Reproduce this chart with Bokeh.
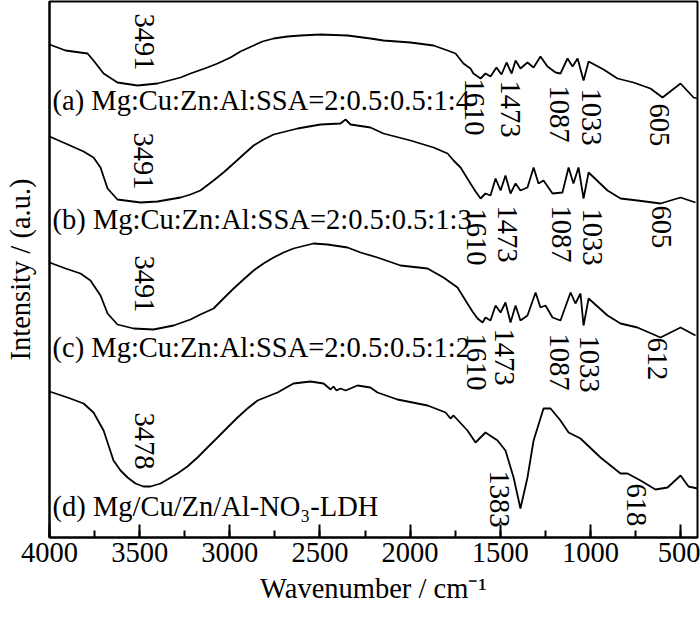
import math
from bokeh.plotting import figure
from bokeh.models import Range1d, SingleIntervalTicker, FixedTicker, ColumnDataSource
from bokeh.embed import file_html
from bokeh.resources import INLINE
from bokeh.core.properties import value

FONT = "Liberation Serif"

# ---- data (wavenumber cm^-1, intensity a.u. with vertical offsets) ----
wn_a = [4000, 3911, 3789, 3756, 3700, 3623, 3512, 3401, 3273, 3218, 3124, 3068, 2996, 2941, 2868,
        2819, 2757, 2680, 2608, 2497, 2347, 2220, 2148, 1998, 1870, 1792, 1748, 1704, 1665, 1649,
        1609, 1582, 1554, 1521, 1493, 1465, 1437, 1415, 1388, 1349, 1315, 1277, 1238, 1193, 1166,
        1127, 1099, 1071, 1038, 1010, 927, 850, 761, 667, 600, 500, 428, 406]
int_a = [493, 487, 484, 477, 464, 455, 452, 454, 460, 464, 470, 474, 480, 486, 492,
         496, 499, 501, 502, 503, 502, 499, 497, 495, 492, 487, 484, 474, 469, 464,
         459, 464, 461, 470, 463, 475, 464, 477, 469, 475, 470, 481, 471, 465, 464,
         479, 471, 479, 457, 476, 468, 459, 455, 449, 440, 454, 440, 439]

wn_b = [4000, 3911, 3811, 3756, 3717, 3678, 3623, 3495, 3401, 3273, 3218, 3163, 3090, 3035, 2979,
        2924, 2868, 2813, 2757, 2691, 2624, 2497, 2386, 2358, 2330, 2220, 2148, 1998, 1870, 1792,
        1759, 1720, 1665, 1637, 1609, 1582, 1554, 1526, 1498, 1471, 1443, 1415, 1388, 1349, 1315,
        1288, 1260, 1210, 1155, 1121, 1094, 1066, 1038, 1010, 905, 833, 739, 611, 500, 417]
int_b = [401, 394, 386, 380, 370, 349, 338, 335, 336, 340, 343, 347, 357, 365, 374,
         383, 392, 398, 403, 406, 409, 413, 414, 418, 413, 410, 404, 397, 390, 384,
         377, 370, 354, 346, 339, 344, 342, 359, 347, 362, 344, 354, 347, 350, 370,
         354, 357, 344, 345, 370, 354, 370, 339, 365, 347, 339, 337, 334, 340, 335]

wn_c = [4000, 3911, 3828, 3773, 3717, 3678, 3623, 3534, 3423, 3312, 3218, 3163, 3090, 3035, 2979,
        2924, 2868, 2813, 2757, 2702, 2647, 2536, 2458, 2347, 2275, 2181, 2053, 1903, 1815, 1776,
        1737, 1682, 1654, 1626, 1598, 1582, 1554, 1526, 1498, 1471, 1443, 1415, 1388, 1349, 1304,
        1277, 1249, 1210, 1166, 1110, 1083, 1055, 1038, 1010, 905, 833, 739, 611, 500, 417]
int_c = [275, 269, 264, 257, 242, 224, 213, 209, 208, 212, 218, 223, 229, 239, 249,
         258, 267, 274, 280, 285, 289, 294, 293, 290, 285, 280, 272, 269, 260, 255,
         250, 234, 226, 219, 215, 220, 217, 232, 225, 235, 215, 232, 217, 222, 245,
         230, 232, 220, 217, 245, 234, 244, 212, 239, 222, 214, 210, 200, 210, 202]

wn_d = [4000, 3900, 3811, 3756, 3700, 3645, 3606, 3567, 3523, 3479, 3440, 3384, 3290, 3235, 3179,
        3124, 3068, 3013, 2957, 2902, 2846, 2791, 2735, 2647, 2552, 2480, 2441, 2425, 2408, 2386,
        2358, 2292, 2220, 2181, 2070, 1903, 1803, 1776, 1759, 1682, 1637, 1582, 1515, 1471, 1426,
        1388, 1349, 1315, 1260, 1221, 1166, 1121, 1055, 944, 833, 794, 722, 639, 572, 500,
        456, 406]
int_d = [146, 140, 134, 125, 107, 77, 67, 60, 54, 51, 51, 54, 64, 71, 80,
         90, 100, 110, 120, 129, 137, 141, 145, 154, 156, 154, 148, 151, 147, 149,
         147, 152, 150, 145, 138, 132, 125, 119, 122, 107, 95, 105, 97, 87, 60,
         29, 60, 97, 129, 129, 117, 105, 99, 80, 64, 64, 57, 48, 50, 62,
         51, 49]

series_names = ["(a) Mg:Cu:Zn:Al:SSA=2:0.5:0.5:1:4",
                "(b) Mg:Cu:Zn:Al:SSA=2:0.5:0.5:1:3",
                "(c) Mg:Cu:Zn:Al:SSA=2:0.5:0.5:1:2",
                "(d) Mg/Cu/Zn/Al-NO\u2083-LDH"]
name_x = [3983, 3983, 3983, 3983]
name_y = [437, 318, 190, 31]

peak_text = ["3491", "1610", "1473", "1087", "1033", "605",
             "3491", "1610", "1473", "1087", "1033", "605",
             "3491", "1610", "1473", "1087", "1033", "612",
             "3478", "1383", "618"]
peak_x = [3473, 1643, 1443, 1171, 994, 617,
          3479, 1632, 1460, 1160, 988, 605,
          3473, 1632, 1476, 1171, 1005, 628,
          3473, 1504, 744]
peak_y = [524, 459, 457, 452, 449, 434,
          405, 329, 332, 332, 329, 332,
          282, 204, 209, 204, 202, 200,
          125, 67, 54]

p = figure(width=700, height=619, output_backend="svg", toolbar_location=None,
           x_range=Range1d(4000, 406), y_range=Range1d(0, 536),
           min_border_left=49, min_border_right=3, min_border_top=1, min_border_bottom=82)
p.grid.visible = False
p.background_fill_color = "white"
p.border_fill_color = "white"
p.outline_line_color = "black"
p.outline_line_width = 2

xa = p.xaxis[0]
xa.ticker = SingleIntervalTicker(interval=500, num_minor_ticks=2)
xa.major_tick_in = 13
xa.major_tick_out = 0
xa.minor_tick_in = 7
xa.minor_tick_out = 0
xa.major_tick_line_width = 2
xa.minor_tick_line_width = 2
xa.axis_line_width = 2
xa.major_label_text_font = FONT
xa.major_label_text_font_size = "28.5px"
xa.major_label_text_color = "black"
xa.major_label_standoff = 5
xa.axis_label = "Wavenumber / cm\u207b\u00b9"
xa.axis_label_text_font = FONT
xa.axis_label_text_font_size = "28.5px"
xa.axis_label_text_font_style = "normal"
xa.axis_label_text_color = "black"
xa.axis_label_standoff = 8

ya = p.yaxis[0]
ya.ticker = FixedTicker(ticks=[])
ya.axis_line_width = 2
ya.major_tick_line_color = None
ya.minor_tick_line_color = None
ya.axis_label = "Intensity / (a.u.)"
ya.axis_label_text_font = FONT
ya.axis_label_text_font_size = "28.5px"
ya.axis_label_text_font_style = "normal"
ya.axis_label_text_color = "black"
ya.axis_label_standoff = 14

for wx, iy in [(wn_a, int_a), (wn_b, int_b), (wn_c, int_c), (wn_d, int_d)]:
    p.line(wx, iy, line_color="black", line_width=1.8)

src_names = ColumnDataSource(dict(x=name_x, y=name_y, t=series_names))
p.text(x="x", y="y", text="t", source=src_names, text_font=value(FONT),
       text_font_size="28.5px", text_align="left", text_baseline="middle", text_color="black")

src_peaks = ColumnDataSource(dict(x=peak_x, y=peak_y, t=peak_text))
p.text(x="x", y="y", text="t", source=src_peaks, angle=-math.pi / 2, text_font=value(FONT),
       text_font_size="28.5px", text_align="left", text_baseline="middle", text_color="black")

open("out.html", "w").write(file_html(p, INLINE))
